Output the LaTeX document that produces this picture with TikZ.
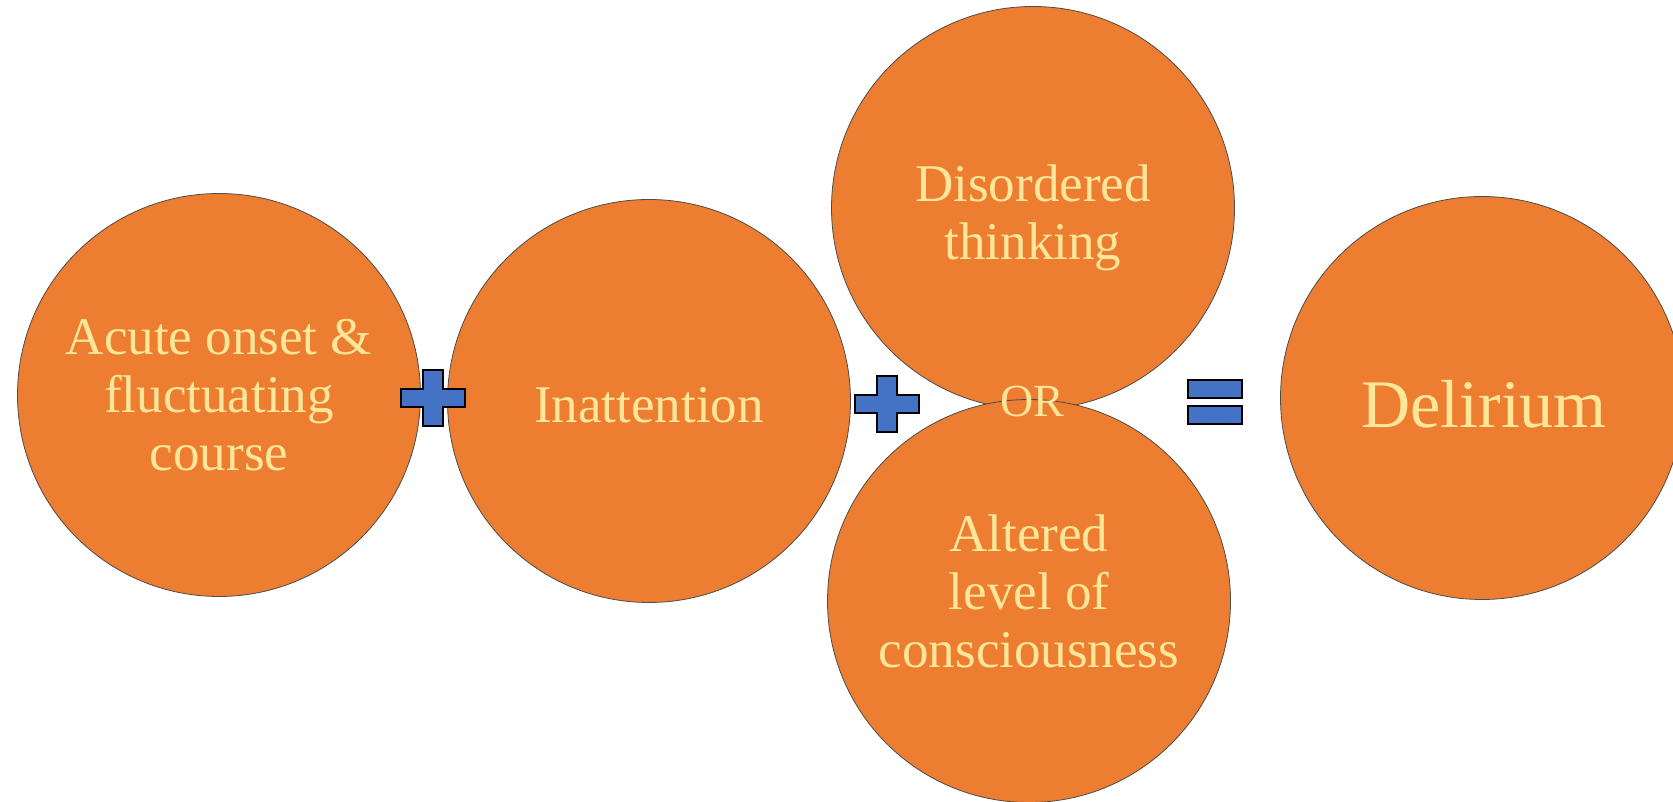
\documentclass[tikz,border=0pt]{standalone}
\usepackage{fontspec}
\setmainfont{Liberation Serif}
\definecolor{bubbleorange}{HTML}{ED7D31}
\definecolor{bubbletext}{HTML}{FFE699}
\definecolor{signblue}{HTML}{4472C4}
\tikzset{bubble/.style={circle, draw=black!70, line width=0.8pt, fill=bubbleorange, minimum size=403pt, inner sep=0pt, text=bubbletext, align=center, font=\fontsize{53}{58}\selectfont}}
\tikzset{label/.style={text=bubbletext, align=center, inner sep=0pt, font=\fontsize{53}{58}\selectfont}}
\tikzset{sign/.style={draw=black, line width=1.6pt, fill=signblue, line join=miter}}
\tikzset{plussign/.pic={
    \path[sign] (-32,-9) -- (-10,-9) -- (-10,-28) -- (10,-28) -- (10,-9) -- (32,-9)
      -- (32,9) -- (10,9) -- (10,28) -- (-10,28) -- (-10,9) -- (-32,9) -- cycle;}}
\tikzset{equalsign/.pic={
    \path[sign] (-27,4) rectangle (27,22);
    \path[sign] (-27,-22) rectangle (27,-4);}}

\begin{document}
\begin{tikzpicture}[x=1pt, y=1pt]
    \useasboundingbox (0,0) rectangle (1673,802);
    \node [bubble] (onset) at (219,407) {Acute onset \&\\fluctuating\\course};
    \node [bubble] (inatt) at (649,401) {};
    \node [bubble] (disord) at (1033,594) {};
    \node [bubble] (altered) at (1029,201) {};
    \node [bubble] (delir) at (1482,404) {};
    \node [label] (inatttext) at (649,397) {Inattention};
    \node [label] (disordtext) at (1033,584) {Disordered\\thinking};
    \node [label] (alteredtext) at (1029,211) {Altered\\level of\\consciousness};
    \node [label, font=\fontsize{46}{50}\selectfont] (or) at (1032,400) {OR};
    \node [label, font=\fontsize{68}{80}\selectfont] (delirtext) at (1484,398) {Delirium};
    % signs between the bubbles
    \coordinate (plusA) at (433,404);
    \coordinate (plusB) at (887,398);
    \coordinate (equals) at (1215,400);
    \pic at (plusA) {plussign};
    \pic at (plusB) {plussign};
    \pic at (equals) {equalsign};
\end{tikzpicture}
\end{document}
